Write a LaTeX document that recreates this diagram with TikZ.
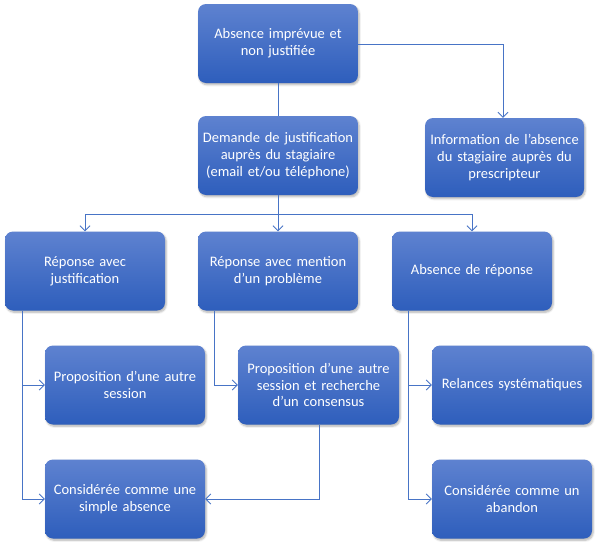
\documentclass[tikz,border=0pt]{standalone}
\usepackage{fontspec}
\setmainfont{Carlito}
\usetikzlibrary{arrows.meta,shadows.blur}
\definecolor{boxtop}{RGB}{94,130,208}
\definecolor{boxbot}{RGB}{46,94,188}
\definecolor{linec}{RGB}{72,116,198}
\newcommand{\ap}{\char"0027\relax}
\tikzset{
  box/.style={rounded corners=8pt, minimum width=160pt, minimum height=79pt,
    top color=boxtop, bottom color=boxbot, draw=none, text=white,
    align=center, text width=158pt, inner sep=0pt,
    font=\fontsize{14.5}{16.7}\selectfont,
    blur shadow={shadow xshift=1.2pt, shadow yshift=-1.8pt, shadow blur steps=6, shadow opacity=30}},
  conn/.style={draw=linec, line width=0.9pt},
  arr/.style={conn, -{Straight Barb[length=5pt,width=10pt,line width=0.8pt]}}
}
\begin{document}
\begin{tikzpicture}[x=1pt,y=-1pt]
\useasboundingbox (0,0) rectangle (598,546);
\node[box] (A) at (278,43.5) {Absence imprévue et\\non justifiée};
\node[box] (D) at (278,155.5) {Demande de justification\\auprès du stagiaire\\(email et/ou téléphone)};
\node[box, minimum width=159pt] (I) at (504.5,157.5) {Information de l’absence\\du stagiaire auprès du\\prescripteur};
\node[box] (R1) at (85,271) {Réponse avec\\justification};
\node[box] (R2) at (278,271) {Réponse avec mention\\d\ap un problème};
\node[box] (R3) at (472,271) {Absence de réponse};
\node[box] (P1) at (125,385) {Proposition d\ap une autre\\session};
\node[box, minimum width=161pt] (P2) at (318.5,385) {Proposition d\ap une autre\\session et recherche\\d\ap un consensus};
\node[box] (P3) at (512,385) {Relances systématiques};
\node[box] (C1) at (125,499) {Considérée comme une\\simple absence};
\node[box] (C3) at (512,499) {Considérée comme un\\abandon};

\coordinate (bus) at (278,214);
\coordinate (r1s) at (22,311);
\coordinate (r2s) at (214,311);
\coordinate (p2s) at (319,425);
\coordinate (r3s) at (408,311);

\draw[conn] (A.south) -- (D.north);
\draw[arr] (A.east |- 0,44) -| (I.north -| 503,0);
\draw[arr] (D.south) -- (R2.north);
\draw[arr] (bus) -| (R1.north);
\draw[arr] (bus) -| (R3.north);
\draw[arr] (r1s) |- (P1.west);
\draw[arr] (r1s) |- (C1.west);
\draw[arr] (r2s) |- (P2.west);
\draw[arr] (p2s) |- (C1.east);
\draw[arr] (r3s) |- (P3.west);
\draw[arr] (r3s) |- (C3.west);
\end{tikzpicture}
\end{document}
